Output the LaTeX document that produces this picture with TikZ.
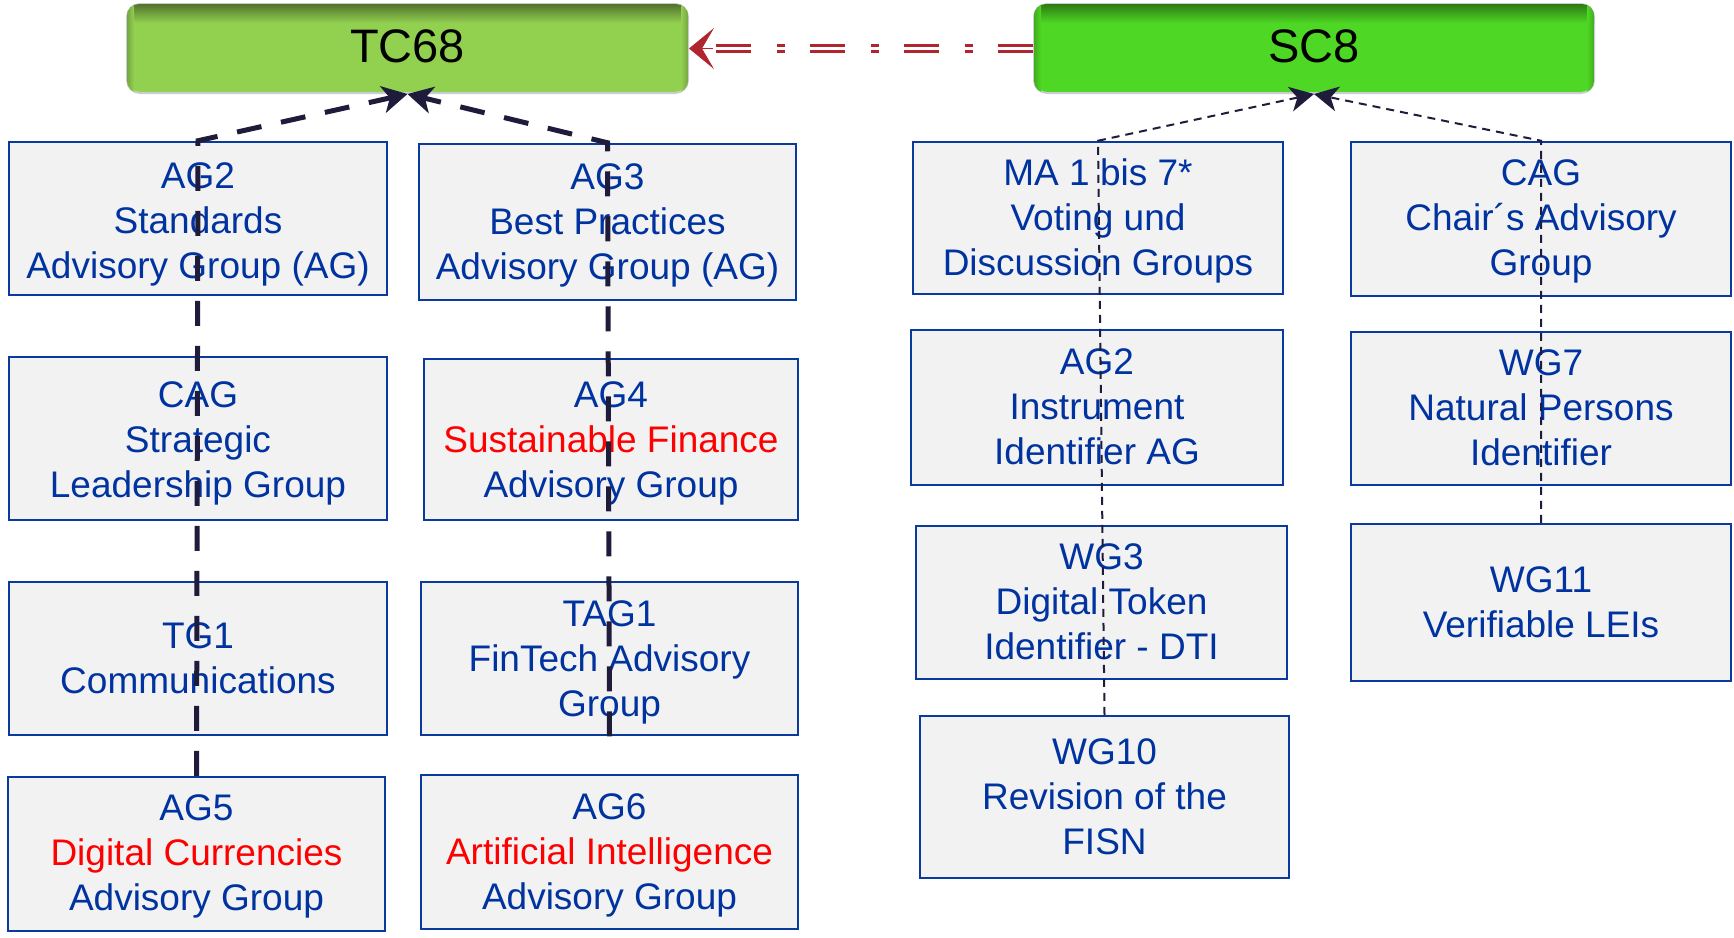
\documentclass[tikz,border=0pt]{standalone}
\usepackage{fontspec}
\setmainfont{Liberation Sans}
\usetikzlibrary{arrows.meta}
\definecolor{txtblue}{HTML}{0033A0}
\definecolor{boxblue}{HTML}{0A3A9E}
\definecolor{boxgray}{HTML}{F2F2F2}
\definecolor{tcgreen}{HTML}{92D050}
\definecolor{tcdark}{HTML}{52722C}
\definecolor{scgreen}{HTML}{4ED724}
\definecolor{scdark}{HTML}{2E7A14}
\definecolor{navy}{HTML}{1F1B3A}
\definecolor{dred}{HTML}{B0262E}
\definecolor{pred}{HTML}{FF0000}
\definecolor{rimgray}{HTML}{C9CDD2}
\tikzset{
  gbox/.style={draw=boxblue, fill=boxgray, line width=2.5pt, text=txtblue,
    inner sep=0pt, font=\fontsize{37}{45}\selectfont},
  bar/.style={draw=rimgray, line width=2pt, rounded corners=13pt,
    inner sep=0pt, minimum width=561pt, minimum height=89pt},
  bartext/.style={font=\fontsize{47}{50}\selectfont, inner sep=0pt, text=black},
  thickdash/.style={navy, line width=5pt, dash pattern=on 25pt off 20pt,
    -{Stealth[length=25pt,width=27pt,inset=7pt]}},
  thindash/.style={navy, line width=2pt, dash pattern=on 8pt off 6pt,
    -{Stealth[length=24pt,width=25pt,inset=7pt]}},
  redline/.style={dred, line width=2.8pt, double=white, double distance=3pt,
    dash pattern=on 35pt off 25pt on 8pt off 26pt},
}
\newcommand{\rt}[1]{\textcolor{pred}{#1}}
\newcommand{\bt}[2][3.3pt]{\raisebox{-#1}[\height][\depth]{\begin{tabular}{@{}c@{}}#2\end{tabular}}}
\newcommand{\shadebar}[3]{% node, dark, base
  \begin{scope}
    \clip[rounded corners=12pt] ([xshift=1pt,yshift=1pt]#1.south west) rectangle ([xshift=-1pt,yshift=-1pt]#1.north east);
    \shade[top color=#2, bottom color=#3] ([yshift=-1pt]#1.north west) rectangle ([yshift=-20pt]#1.north east);
    \shade[left color=#2!45!#3, right color=#3] ([xshift=1pt]#1.north west) rectangle ([xshift=8pt]#1.south west);
    \shade[right color=#2!45!#3, left color=#3] ([xshift=-1pt]#1.north east) rectangle ([xshift=-8pt]#1.south east);
  \end{scope}}
\begin{document}
\begin{tikzpicture}[x=1pt,y=-1pt]
\useasboundingbox (0,0) rectangle (1734,937);
% top bars
\node[bar, fill=tcgreen] (tc68) at (407.5,48.5) {};
\node[bar, fill=scgreen, minimum width=560pt] (sc8) at (1314,48.5) {};
\shadebar{tc68}{tcdark}{tcgreen}
\shadebar{sc8}{scdark}{scgreen}
\node[bartext] (tc68t) at ([yshift=2pt]tc68.center) {TC68};
\node[bartext] (sc8t) at ([yshift=2pt]sc8.center) {SC8};
% left boxes
\node[gbox, minimum width=378pt, minimum height=153pt] (ag2l) at (198,218.5) {\bt[5.5pt]{AG2\\Standards\\Advisory Group (AG)}};
\node[gbox, minimum width=377pt, minimum height=156pt] (ag3) at (607.5,222) {\bt[3pt]{AG3\\Best Practices\\Advisory Group (AG)}};
\node[gbox, minimum width=378pt, minimum height=163pt] (cagl) at (198,438.5) {\bt[4.5pt]{CAG\\Strategic\\Leadership Group}};
\node[gbox, minimum width=374pt, minimum height=161pt] (ag4) at (611,439.5) {\bt[3.5pt]{AG4\\\rt{Sustainable Finance}\\Advisory Group}};
\node[gbox, minimum width=378pt, minimum height=153pt] (tg1) at (198,658.5) {\bt{TG1\\Communications}};
\node[gbox, minimum width=377pt, minimum height=153pt] (tag1) at (609.5,658.5) {\bt[3.5pt]{TAG1\\FinTech Advisory\\Group}};
\node[gbox, minimum width=377pt, minimum height=154pt] (ag5) at (196.5,854) {\bt[2pt]{AG5\\\rt{Digital Currencies}\\Advisory Group}};
\node[gbox, minimum width=377pt, minimum height=154pt] (ag6) at (609.5,852) {\bt[3pt]{AG6\\\rt{Artificial Intelligence}\\Advisory Group}};
% right boxes
\node[gbox, minimum width=370pt, minimum height=152pt] (ma) at (1098,218) {\bt[3.5pt]{MA 1 bis 7*\\Voting und\\Discussion Groups}};
\node[gbox, minimum width=380pt, minimum height=154pt] (cagr) at (1541,219) {\bt[2pt]{CAG\\Chair´s Advisory\\Group}};
\node[gbox, minimum width=372pt, minimum height=155pt] (ag2r) at (1097,407.5) {\bt{AG2\\Instrument\\Identifier AG}};
\node[gbox, minimum width=380pt, minimum height=153pt] (wg7) at (1541,408.5) {\bt{WG7\\Natural Persons\\Identifier}};
\node[gbox, minimum width=371pt, minimum height=153pt] (wg3) at (1101.5,602.5) {\bt{WG3\\Digital Token\\Identifier - DTI}};
\node[gbox, minimum width=380pt, minimum height=157pt] (wg11) at (1541,602.5) {\bt{WG11\\Verifiable LEIs}};
\node[gbox, minimum width=369pt, minimum height=162pt] (wg10) at (1104.5,797) {\bt{WG10\\Revision of the\\FISN}};
% connectors TC68
\draw[thickdash] (ag5.north) -- (ag2l.north) -- (tc68.south);
\draw[thickdash] (tag1.south) -- (ag3.north) -- (tc68.south);
% connectors SC8
\draw[thindash] (wg10.north) -- (ma.north) -- (sc8.south);
\draw[thindash] (wg11.north) -- (cagr.north) -- (sc8.south);
% SC8 -> TC68
\coordinate (rb) at ([xshift=24pt]tc68.east);
\draw[redline] (sc8.west) -- (rb);
\draw[dred, line width=1pt, -{Stealth[length=25pt,width=41pt,inset=12pt]}] (rb) -- (tc68.east);
\end{tikzpicture}
\end{document}
